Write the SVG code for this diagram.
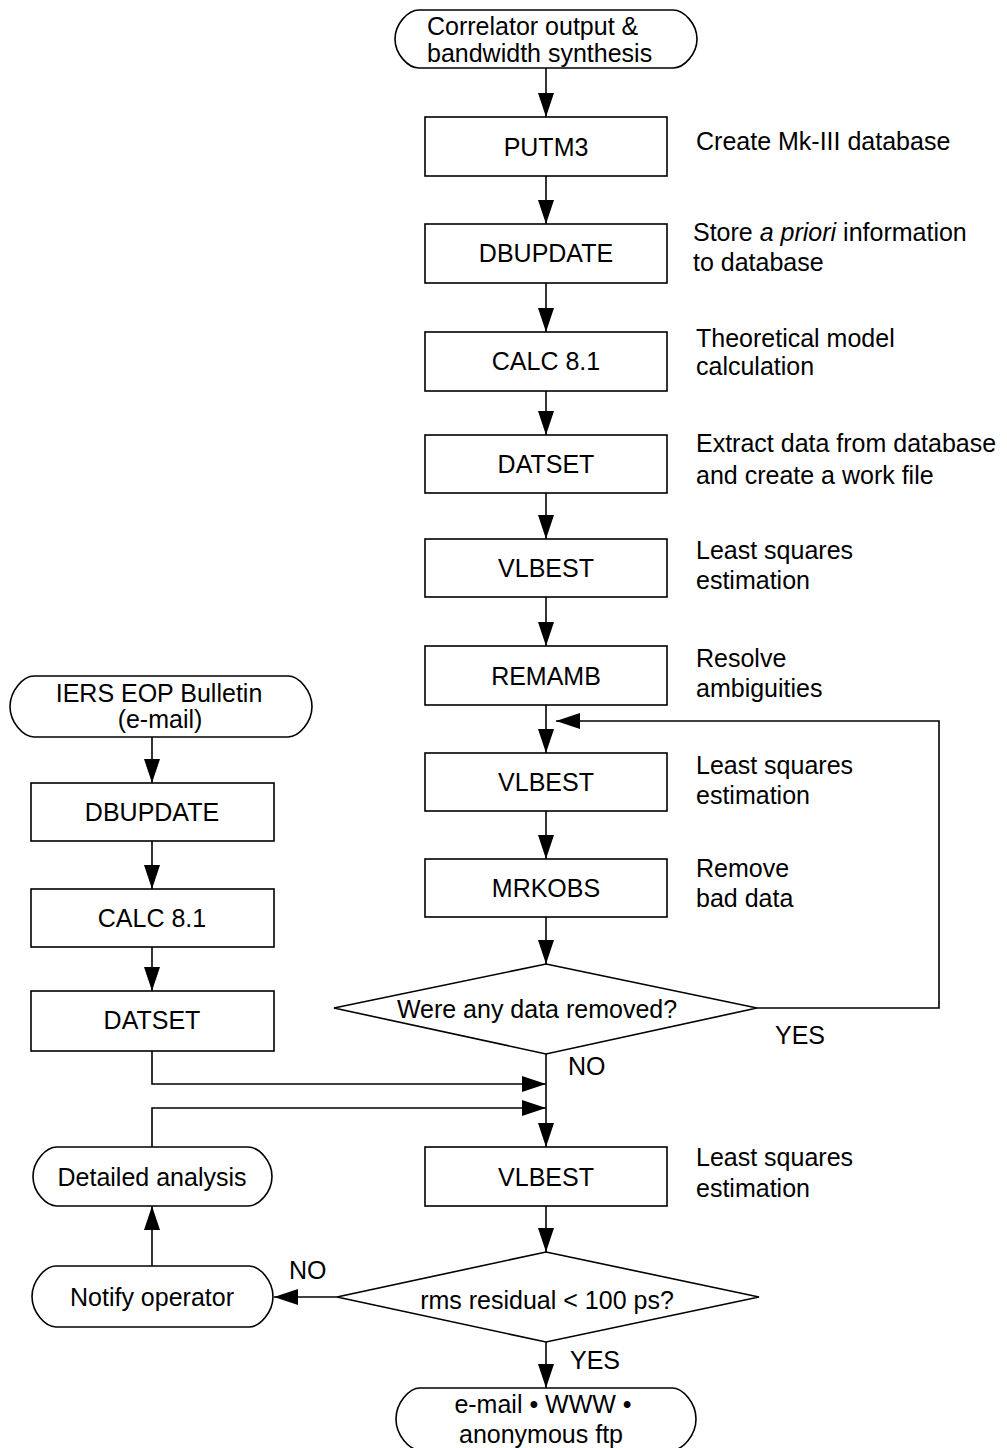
<svg xmlns="http://www.w3.org/2000/svg" width="1007" height="1448" viewBox="0 0 1007 1448">
  <style>
    text { font-family: "Liberation Sans", Arial, Helvetica, sans-serif; font-size: 25px; fill: #000; }
    .c { text-anchor: middle; }
    .shape { fill: #fff; stroke: #000; stroke-width: 1.6; }
    .wire { fill: none; stroke: #000; stroke-width: 1.6; }
  </style>
  <defs>
    <marker id="arrow" viewBox="0 0 24 16" refX="24" refY="8" markerWidth="24" markerHeight="16" markerUnits="userSpaceOnUse" orient="auto">
      <path d="M0,0 L24,8 L0,16 Z" fill="#000"/>
    </marker>
  </defs>
  <rect width="1007" height="1448" fill="#fff"/>

  <!-- connectors -->
  <g id="connectors" class="wire" marker-end="url(#arrow)">
    <path d="M546,68 V117"/>
    <path d="M546,176 V224"/>
    <path d="M546,283 V332"/>
    <path d="M546,391 V435"/>
    <path d="M546,493 V539"/>
    <path d="M546,597 V646"/>
    <path d="M546,705 V753"/>
    <path d="M546,811 V859"/>
    <path d="M546,917 V964"/>
    <path d="M757,1008 H939 V721 H556"/>
    <path d="M546,1054 V1147"/>
    <path d="M152,1051 V1084 H546"/>
    <path d="M152,1147 V1108 H546"/>
    <path d="M546,1206 V1252"/>
    <path d="M546,1342 V1388"/>
    <path d="M337,1297 H274"/>
    <path d="M152,1266 V1206"/>
    <path d="M152,737 V783"/>
    <path d="M152,841 V889"/>
    <path d="M152,947 V991"/>
  </g>

  <!-- main column -->
  <g id="start">
    <path class="shape" d="M419,10 H673 C684,10 697,24 697,39 C697,54 684,68 673,68 H419 C408,68 395,54 395,39 C395,24 408,10 419,10 Z"/>
    <text x="427" y="35">Correlator output &amp;</text>
    <text x="427" y="62">bandwidth synthesis</text>
  </g>
  <g id="putm3">
    <rect class="shape" x="425" y="117" width="242" height="59"/>
    <text class="c" x="546" y="156">PUTM3</text>
  </g>
  <g id="dbupdate-main">
    <rect class="shape" x="425" y="224" width="242" height="59"/>
    <text class="c" x="546" y="262">DBUPDATE</text>
  </g>
  <g id="calc-main">
    <rect class="shape" x="425" y="332" width="242" height="59"/>
    <text class="c" x="546" y="370">CALC 8.1</text>
  </g>
  <g id="datset-main">
    <rect class="shape" x="425" y="435" width="242" height="58"/>
    <text class="c" x="546" y="473">DATSET</text>
  </g>
  <g id="vlbest-1">
    <rect class="shape" x="425" y="539" width="242" height="58"/>
    <text class="c" x="546" y="577">VLBEST</text>
  </g>
  <g id="remamb">
    <rect class="shape" x="425" y="646" width="242" height="59"/>
    <text class="c" x="546" y="685">REMAMB</text>
  </g>
  <g id="vlbest-2">
    <rect class="shape" x="425" y="753" width="242" height="58"/>
    <text class="c" x="546" y="791">VLBEST</text>
  </g>
  <g id="mrkobs">
    <rect class="shape" x="425" y="859" width="242" height="58"/>
    <text class="c" x="546" y="897">MRKOBS</text>
  </g>
  <g id="data-removed">
    <path class="shape" d="M546,964 L757,1008 L546,1054 L334,1008 Z"/>
    <text class="c" x="537" y="1018">Were any data removed?</text>
  </g>
  <g id="vlbest-3">
    <rect class="shape" x="425" y="1147" width="242" height="59"/>
    <text class="c" x="546" y="1186">VLBEST</text>
  </g>
  <g id="rms-check">
    <path class="shape" d="M546,1252 L759,1297 L546,1342 L337,1297 Z"/>
    <text class="c" x="547" y="1309">rms residual &lt; 100 ps?</text>
  </g>
  <g id="publish">
    <path class="shape" d="M420,1388 H672 C683,1388 696,1403 696,1419 C696,1435 683,1450 672,1450 H420 C409,1450 396,1435 396,1419 C396,1403 409,1388 420,1388 Z"/>
    <text class="c" x="543" y="1413">e-mail • WWW •</text>
    <text class="c" x="541" y="1443">anonymous ftp</text>
  </g>

  <!-- left column -->
  <g id="iers-bulletin">
    <path class="shape" d="M34,676 H288 C299,676 312,691 312,706.5 C312,722 299,737 288,737 H34 C23,737 10,722 10,706.5 C10,691 23,676 34,676 Z"/>
    <text class="c" x="159" y="702">IERS EOP Bulletin</text>
    <text class="c" x="160" y="728">(e-mail)</text>
  </g>
  <g id="dbupdate-eop">
    <rect class="shape" x="31" y="783" width="243" height="58"/>
    <text class="c" x="152" y="821">DBUPDATE</text>
  </g>
  <g id="calc-eop">
    <rect class="shape" x="31" y="889" width="243" height="58"/>
    <text class="c" x="152" y="927">CALC 8.1</text>
  </g>
  <g id="datset-eop">
    <rect class="shape" x="31" y="991" width="243" height="60"/>
    <text class="c" x="152" y="1029">DATSET</text>
  </g>
  <g id="detailed-analysis">
    <path class="shape" d="M57,1147 H248 C259,1147 272,1161 272,1176.5 C272,1192 259,1206 248,1206 H57 C46,1206 33,1192 33,1176.5 C33,1161 46,1147 57,1147 Z"/>
    <text class="c" x="152" y="1186">Detailed analysis</text>
  </g>
  <g id="notify-operator">
    <path class="shape" d="M56,1266 H249 C260,1266 273,1281 273,1296.5 C273,1312 260,1327 249,1327 H56 C45,1327 32,1312 32,1296.5 C32,1281 45,1266 56,1266 Z"/>
    <text class="c" x="152" y="1306">Notify operator</text>
  </g>

  <!-- branch labels -->
  <g id="branch-labels">
    <text x="775" y="1044">YES</text>
    <text x="568" y="1075">NO</text>
    <text x="289" y="1279">NO</text>
    <text x="570" y="1369">YES</text>
  </g>

  <!-- step descriptions -->
  <g id="notes">
    <text x="696" y="150">Create Mk-III database</text>
    <text x="693" y="241">Store <tspan font-style="italic">a priori</tspan> information</text>
    <text x="693" y="271">to database</text>
    <text x="696" y="347">Theoretical model</text>
    <text x="696" y="375">calculation</text>
    <text x="696" y="452">Extract data from database</text>
    <text x="696" y="484">and create a work file</text>
    <text x="696" y="559">Least squares</text>
    <text x="696" y="589">estimation</text>
    <text x="696" y="667">Resolve</text>
    <text x="696" y="697">ambiguities</text>
    <text x="696" y="774">Least squares</text>
    <text x="696" y="804">estimation</text>
    <text x="696" y="877">Remove</text>
    <text x="696" y="907">bad data</text>
    <text x="696" y="1166">Least squares</text>
    <text x="696" y="1197">estimation</text>
  </g>
</svg>
